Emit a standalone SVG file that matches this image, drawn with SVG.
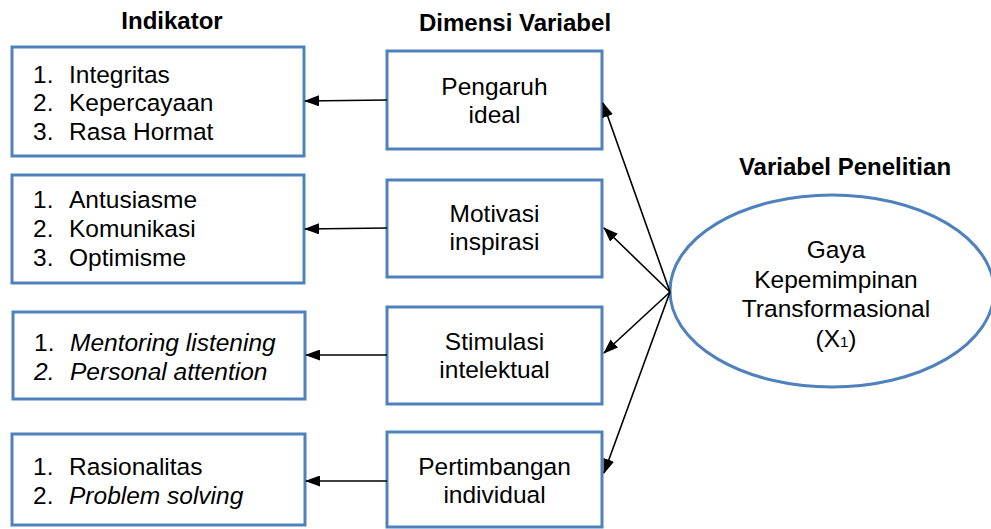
<svg xmlns="http://www.w3.org/2000/svg" width="991" height="529" viewBox="0 0 991 529">
  <style>
    .box { fill: #ffffff; stroke: #4f81bd; stroke-width: 3; }
    .t { font-family: "Liberation Sans", Arial, sans-serif; font-size: 24.5px; fill: #000; }
    .c { text-anchor: middle; }
    .h { font-family: "Liberation Sans", Arial, sans-serif; font-size: 24px; font-weight: bold; fill: #000; text-anchor: middle; }
    .i { font-style: italic; }
    .link { stroke: #000; stroke-width: 1.6; fill: none; marker-end: url(#head); }
  </style>
  <defs>
    <marker id="head" viewBox="0 0 15 11" refX="14" refY="5.5" markerWidth="15" markerHeight="11" markerUnits="userSpaceOnUse" orient="auto">
      <path d="M0,0 L15,5.5 L0,11 Z" fill="#000"/>
    </marker>
  </defs>

  <rect width="991" height="529" fill="#ffffff"/>

  <!-- column headings -->
  <text class="h" x="172" y="29">Indikator</text>
  <text class="h" x="515" y="31">Dimensi Variabel</text>
  <text class="h" x="845" y="175">Variabel Penelitian</text>

  <!-- indicator boxes -->
  <g id="ind-pengaruh">
    <rect class="box" x="12" y="47" width="292" height="109"/>
    <text class="t" x="33" y="83">1.</text><text class="t" x="69" y="83">Integritas</text>
    <text class="t" x="33" y="111">2.</text><text class="t" x="69" y="111">Kepercayaan</text>
    <text class="t" x="33" y="140">3.</text><text class="t" x="69" y="140">Rasa Hormat</text>
  </g>
  <g id="ind-motivasi">
    <rect class="box" x="12" y="175" width="292" height="108"/>
    <text class="t" x="33" y="208">1.</text><text class="t" x="69" y="208">Antusiasme</text>
    <text class="t" x="33" y="237">2.</text><text class="t" x="69" y="237">Komunikasi</text>
    <text class="t" x="33" y="266">3.</text><text class="t" x="69" y="266">Optimisme</text>
  </g>
  <g id="ind-stimulasi">
    <rect class="box" x="13" y="312" width="292" height="87"/>
    <text class="t" x="34" y="351">1.</text><text class="t i" x="70" y="351">Mentoring listening</text>
    <text class="t i" x="34" y="380">2.</text><text class="t i" x="70" y="380">Personal attention</text>
  </g>
  <g id="ind-pertimbangan">
    <rect class="box" x="12" y="434" width="293" height="91"/>
    <text class="t" x="33" y="475">1.</text><text class="t" x="69" y="475">Rasionalitas</text>
    <text class="t" x="33" y="504">2.</text><text class="t i" x="69" y="504">Problem solving</text>
  </g>

  <!-- dimension boxes -->
  <g id="dim-pengaruh">
    <rect class="box" x="387" y="51" width="215" height="98"/>
    <text class="t c" x="494.5" y="95">Pengaruh</text>
    <text class="t c" x="494.5" y="123">ideal</text>
  </g>
  <g id="dim-motivasi">
    <rect class="box" x="387" y="180" width="215" height="97"/>
    <text class="t c" x="494.5" y="222">Motivasi</text>
    <text class="t c" x="494.5" y="250">inspirasi</text>
  </g>
  <g id="dim-stimulasi">
    <rect class="box" x="387" y="307" width="215" height="97"/>
    <text class="t c" x="494.5" y="350">Stimulasi</text>
    <text class="t c" x="494.5" y="378">intelektual</text>
  </g>
  <g id="dim-pertimbangan">
    <rect class="box" x="387" y="432" width="215" height="95"/>
    <text class="t c" x="494.5" y="475">Pertimbangan</text>
    <text class="t c" x="494.5" y="503">individual</text>
  </g>

  <!-- research variable -->
  <g id="variabel">
    <ellipse cx="832" cy="291" rx="162" ry="96" fill="#ffffff" stroke="#4f81bd" stroke-width="3"/>
    <text class="t c" x="836" y="258">Gaya</text>
    <text class="t c" x="836" y="288">Kepemimpinan</text>
    <text class="t c" x="836" y="317">Transformasional</text>
    <text class="t c" x="836" y="347">(X<tspan font-size="15">1</tspan>)</text>
  </g>

  <!-- connectors -->
  <g id="connectors">
    <line class="link" x1="387" y1="100" x2="305" y2="101"/>
    <line class="link" x1="387" y1="228" x2="305" y2="229"/>
    <line class="link" x1="387" y1="355" x2="306" y2="355"/>
    <line class="link" x1="387" y1="481" x2="306" y2="481"/>
    <line class="link" x1="670" y1="292" x2="603" y2="103"/>
    <line class="link" x1="670" y1="292" x2="604" y2="228"/>
    <line class="link" x1="670" y1="292" x2="604" y2="353"/>
    <line class="link" x1="670" y1="292" x2="604" y2="473"/>
  </g>
</svg>
